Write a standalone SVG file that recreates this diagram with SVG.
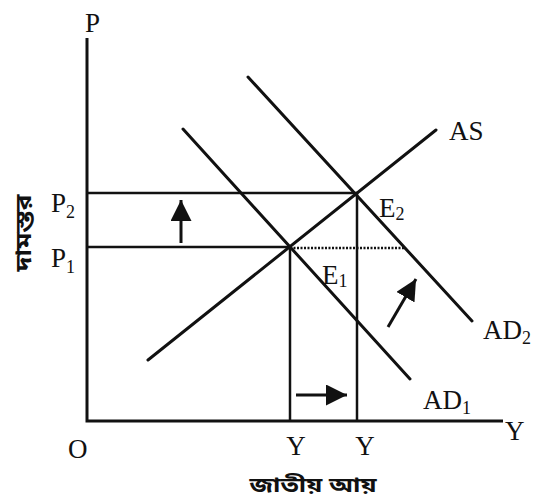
<svg xmlns="http://www.w3.org/2000/svg" width="546" height="504" viewBox="0 0 546 504">
<style>
.ax{stroke:#111;stroke-width:3;fill:none}
.ln{stroke:#111;stroke-width:3;fill:none;stroke-linecap:round}
.gd{stroke:#111;stroke-width:2.5;fill:none}
.dot{stroke:#111;stroke-width:2.5;fill:none;stroke-dasharray:2 1.5}
.arr{stroke:#111;stroke-width:3;fill:none;marker-end:url(#ah)}
.t{font-family:"Liberation Serif","Times New Roman",serif;font-size:27px;fill:#111}
.s{font-size:18px}
.bn{font-family:"Noto Sans Bengali","Noto Serif Bengali","Lohit Bengali","Noto Sans",sans-serif;font-size:22px;fill:#111;font-weight:bold}
</style>
<defs>
<marker id="ah" viewBox="0 0 10 10" refX="10" refY="5" markerWidth="21" markerHeight="21" markerUnits="userSpaceOnUse" orient="auto">
<path d="M0,0 L10,5 L0,10 z" fill="#111"/>
</marker>
</defs>
<rect width="546" height="504" fill="#fff"/>
<g id="axes">
<path class="ax" d="M87,38 V421 H503"/>
</g>
<g id="connectors">
<line class="gd" x1="87" y1="193" x2="357" y2="193"/>
<line class="gd" x1="87" y1="247" x2="290" y2="247"/>
<line class="dot" x1="290" y1="248" x2="404" y2="248"/>
<line class="gd" x1="290" y1="247" x2="290" y2="421"/>
<line class="gd" x1="357" y1="193" x2="357" y2="421"/>
<line class="arr" x1="181" y1="243" x2="181" y2="200"/>
<line class="arr" x1="296" y1="395" x2="347" y2="395"/>
<line class="arr" x1="388" y1="327" x2="416" y2="279"/>
</g>
<g id="AS"><line class="ln" x1="148" y1="360" x2="436" y2="130"/><text class="t" x="449" y="140">AS</text></g>
<g id="AD1"><line class="ln" x1="183" y1="129" x2="410" y2="379"/><text class="t" x="423" y="409">AD<tspan class="s" dy="5">1</tspan></text></g>
<g id="AD2"><line class="ln" x1="248" y1="77" x2="472" y2="321"/><text class="t" x="483" y="339">AD<tspan class="s" dy="5">2</tspan></text></g>
<g id="E1"><text class="t" x="322" y="284">E<tspan class="s" dy="3">1</tspan></text></g>
<g id="E2"><text class="t" x="379" y="217">E<tspan class="s" dy="3">2</tspan></text></g>
<g id="labels">
<text class="t" x="85" y="32">P</text>
<text class="t" x="505" y="440">Y</text>
<text class="t" x="68" y="458">O</text>
<text class="t" x="296" y="455" text-anchor="middle">Y</text>
<text class="t" x="365" y="455" text-anchor="middle">Y</text>
<text class="t" x="51" y="212">P<tspan class="s" dy="6">2</tspan></text>
<text class="t" x="51" y="267">P<tspan class="s" dy="6">1</tspan></text>
<text class="bn" transform="translate(31,233) rotate(-90)" text-anchor="middle" textLength="77" lengthAdjust="spacingAndGlyphs">দামস্তর</text>
<text class="bn" x="313" y="492" font-size="20" style="font-size:20px" text-anchor="middle" textLength="127" lengthAdjust="spacingAndGlyphs">জাতীয় আয়</text>
</g>
</svg>
